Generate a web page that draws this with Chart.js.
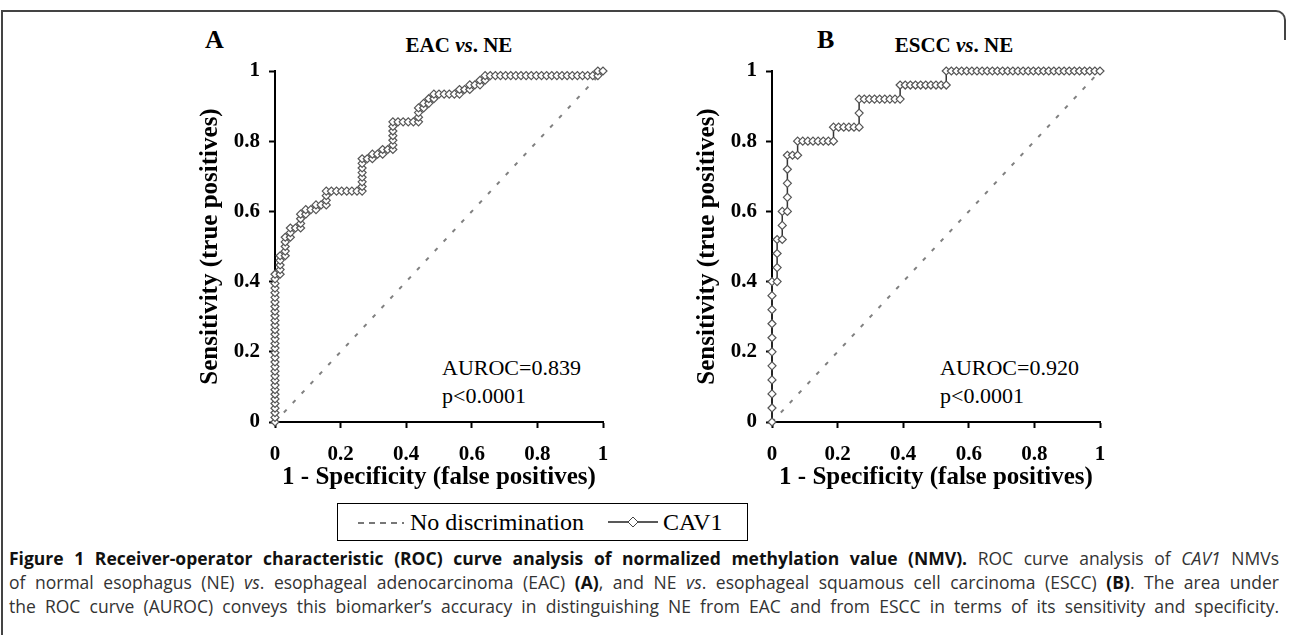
<!DOCTYPE html>
<html><head><meta charset="utf-8">
<script src="https://cdn.jsdelivr.net/npm/chart.js@4.4.1/dist/chart.umd.min.js"></script>
<style>
html,body{margin:0;padding:0;background:#fff;width:1290px;height:635px;overflow:hidden;position:relative;}
.abs{position:absolute;white-space:nowrap;}
.serif{font-family:"Liberation Serif","Times New Roman",serif;color:#000;}
#frame{position:absolute;left:1px;top:10px;width:1270px;height:700px;border-top:2px solid #444;border-left:2px solid #444;box-sizing:border-box;}
#corner{position:absolute;left:1270px;top:10px;width:16px;height:30px;border-top:2px solid #444;border-right:2px solid #444;border-top-right-radius:10px;box-sizing:border-box;}
.cap{position:absolute;left:9px;width:1270px;font-family:"Open Sans",sans-serif;font-size:17.5px;color:#333;text-align:justify;text-align-last:justify;line-height:24px;height:24px;}
.cap b{color:#111;}
.cap b.t{font-stretch:92%;}
#legend{position:absolute;left:337px;top:503px;width:411px;height:38px;border:1px solid #000;box-sizing:border-box;}
</style></head>
<body>
<div id="frame"></div>
<div id="corner"></div>

<div class="abs serif" style="left:205px;top:25px;font-size:26px;font-weight:bold;line-height:30px;">A</div>
<div class="abs serif" style="left:817px;top:25px;font-size:26px;font-weight:bold;line-height:30px;">B</div>
<div class="abs serif" style="left:459px;top:32px;transform:translateX(-50%);font-size:21px;font-weight:bold;line-height:26px;">EAC <i>vs</i>. NE</div>
<div class="abs serif" style="left:954px;top:32px;transform:translateX(-50%);font-size:21px;font-weight:bold;line-height:26px;">ESCC <i>vs</i>. NE</div>

<div class="abs serif" style="left:442px;top:354px;font-size:22px;line-height:28px;">AUROC=0.839<br>p&lt;0.0001</div>
<div class="abs serif" style="left:940px;top:354px;font-size:22px;line-height:28px;">AUROC=0.920<br>p&lt;0.0001</div>

<canvas id="chartA" class="abs" width="450" height="480" style="left:180px;top:20px;"></canvas>
<canvas id="chartB" class="abs" width="450" height="480" style="left:677px;top:20px;"></canvas>

<div id="legend">
  <svg class="abs" style="left:20px;top:17px;" width="46" height="4"><line x1="0" y1="2" x2="46" y2="2" stroke="#777" stroke-width="2" stroke-dasharray="6,5"/></svg>
  <div class="abs serif" style="left:72px;top:4px;font-size:24px;line-height:28px;">No discrimination</div>
  <svg class="abs" style="left:270px;top:11px;" width="50" height="14"><line x1="0" y1="7" x2="50" y2="7" stroke="#222" stroke-width="1.5"/><polygon points="25,2 30,7 25,12 20,7" fill="#fff" stroke="#444" stroke-width="1"/></svg>
  <div class="abs serif" style="left:325px;top:4px;font-size:24px;line-height:28px;">CAV1</div>
</div>

<div class="cap" style="top:546px;"><b class="t">Figure 1 Receiver-operator characteristic (ROC) curve analysis of normalized methylation value (NMV).</b> ROC curve analysis of <i>CAV1</i> NMVs</div>
<div class="cap" style="top:570px;">of normal esophagus (NE) <i>vs</i>. esophageal adenocarcinoma (EAC) <b>(A)</b>, and NE <i>vs</i>. esophageal squamous cell carcinoma (ESCC) <b>(B)</b>. The area under</div>
<div class="cap" style="top:594px;">the ROC curve (AUROC) conveys this biomarker’s accuracy in distinguishing NE from EAC and from ESCC in terms of its sensitivity and specificity.</div>

<script>
// ---- data ----
const nNE = 64;     // normal esophagus samples (x step = 1/nNE)
const nEAC = 76;    // EAC samples (y step = 1/nEAC)
const nESCC = 25;   // ESCC samples (y step = 1/nESCC)
const tickLabels = ['0', '0.2', '0.4', '0.6', '0.8', '1'];
const diagX = [0, 1];
const diagY = [0, 1];

// Panel A: EAC vs NE — false-positive counts and true-positive counts of each ROC point
const eacFP = [
  0,0,0,0,0,0,0,0,0,0, 0,0,0,0,0,0,0,0,0,0, 0,0,0,0,0,0,0,0,0,0, 0,0,0,
  1,1,1,1,1, 2,2,2,2,2, 3,3,3, 4,5,5,5,5, 6,6,7,8,8,9,10, 10,10,10,
  11,12,13,14,15,16,17, 17,17,17,17,17,17,17,
  18,19,19,20,21,21,22,23, 23,23,23,23,23,23,
  24,25,26,27,28, 28,28,28,29,29,30,30,31,31,
  32,33,34,35,36, 36,37,38,38,39,40,40,41,41,
  42,43,44,45,46,47,48,49,50,51,52,53,54,55,56,57,58,59,60,61,62,
  63,63,64
];
const eacTP = [
  0,1,2,3,4,5,6,7,8,9, 10,11,12,13,14,15,16,17,18,19, 20,21,22,23,24,25,26,27,28,29, 30,31,32,
  32,33,34,35,36, 36,37,38,39,40, 40,41,42, 42,42,43,44,45, 45,46,46,46,47,47,47, 48,49,50,
  50,50,50,50,50,50,50, 51,52,53,54,55,56,57,
  57,57,58,58,58,59,59,59, 60,61,62,63,64,65,
  65,65,65,65,65, 66,67,68,68,69,69,70,70,71,
  71,71,71,71,71, 72,72,72,73,73,73,74,74,75,
  75,75,75,75,75,75,75,75,75,75,75,75,75,75,75,75,75,75,75,75,75,
  75,76,76
];

// Panel B: ESCC vs NE
const escFP = [
  0,0,0,0,0,0,0,0,0,0,0,
  1,1,1,1, 2,2,2, 3,3,3,3,3, 4,5,5,
  6,7,8,9,10,11,12, 12, 13,14,15,16,17, 17,17,
  18,19,20,21,22,23,24,25, 25, 26,27,28,29,30,31,32,33,34, 34,
  35,36,37,38,39,40,41,42,43,44,45,46,47,48,49,50,51,52,53,54,55,56,57,58,59,60,61,62,63,64
];
const escTP = [
  0,1,2,3,4,5,6,7,8,9,10,
  10,11,12,13, 13,14,15, 15,16,17,18,19, 19,19,20,
  20,20,20,20,20,20,20, 21, 21,21,21,21,21, 22,23,
  23,23,23,23,23,23,23,23, 24, 24,24,24,24,24,24,24,24,24, 25,
  25,25,25,25,25,25,25,25,25,25,25,25,25,25,25,25,25,25,25,25,25,25,25,25,25,25,25,25,25,25
];

const SERIF = '"Liberation Serif","Times New Roman",serif';

function makeChart(id, fp, tp, nPos, radius) {
  const roc = fp.map((f, i) => ({ x: f / nNE, y: tp[i] / nPos }));
  const diag = diagX.map((x, i) => ({ x: x, y: diagY[i] }));
  const axisCommon = {
    type: 'linear', min: 0, max: 1,
    ticks: {
      stepSize: 0.2, color: '#000',
      font: { family: SERIF, size: 21, weight: 'bold' },
      callback: (v, i) => tickLabels[i]
    },
    grid: { display: true, drawOnChartArea: false, drawTicks: true, tickLength: 6, tickColor: '#000', tickWidth: 2 },
    border: { display: true, color: '#000', width: 2 }
  };
  return new Chart(document.getElementById(id), {
    type: 'line',
    data: {
      datasets: [
        { label: 'No discrimination', data: diag, borderColor: '#808080', borderWidth: 2, borderDash: [4, 9], pointRadius: 0, fill: false, order: 2 },
        { label: 'CAV1', data: roc, borderColor: '#333', borderWidth: 1.5, pointStyle: 'rectRot', pointRadius: radius,
          pointBackgroundColor: '#fff', pointBorderColor: '#555', pointBorderWidth: 1.2, fill: false, tension: 0, clip: false, order: 1 }
      ]
    },
    options: {
      responsive: false, animation: false, events: [],
      layout: { padding: { left: 0, top: 51, right: 27, bottom: 3 } },
      plugins: { legend: { display: false }, tooltip: { enabled: false }, title: { display: false } },
      scales: {
        x: Object.assign({}, axisCommon, {
          ticks: Object.assign({}, axisCommon.ticks, { padding: 14, maxRotation: 0 }),
          title: { display: true, text: '1 - Specificity (false positives)', color: '#000',
                   font: { family: SERIF, size: 25, weight: 'bold' }, padding: { top: 0, bottom: 4 } },
          afterFit: s => { s.height = 75; }
        }),
        y: Object.assign({}, axisCommon, {
          ticks: Object.assign({}, axisCommon.ticks, { padding: 9 }),
          title: { display: true, text: 'Sensitivity (true positives)', color: '#000',
                   font: { family: SERIF, size: 25, weight: 'bold' }, padding: { top: 16, bottom: 0 } },
          afterFit: s => { s.width = 95; }
        })
      }
    }
  });
}

makeChart('chartA', eacFP, eacTP, nEAC, 4);
makeChart('chartB', escFP, escTP, nESCC, 4);
</script>
</body></html>
